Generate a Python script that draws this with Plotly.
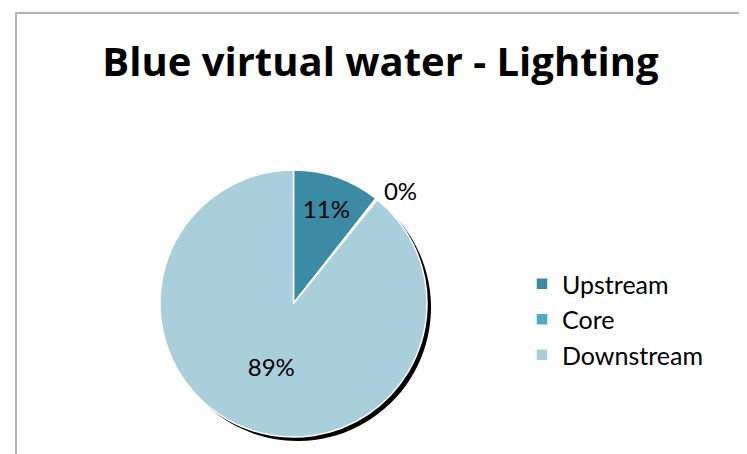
import plotly.graph_objects as go

# Data
categories = ["Upstream", "Core", "Downstream"]
shares = [10.6, 0.2, 89.2]
colors = ["#3A8BA3", "#4BACC6", "#A9CFDC"]
text_positions = ["inside", "outside", "inside"]
title_text = "Blue virtual water - Lighting"

W, H = 747, 454
FONT = "Lato"
OFF = 8  # page body margin

def px_x(v):
    return (v - OFF) / W

def px_y(v):
    return 1 - (v - OFF) / H

# pie geometry (pixels, in screenshot coordinates)
cx, cy, r = 293.5, 303.5, 133.5
sdx, sdy = 4, 4

fig = go.Figure()

# shadow
fig.add_trace(go.Pie(
    labels=categories, values=shares, sort=False, direction="clockwise", rotation=0,
    marker=dict(colors=["#000000"] * len(categories), line=dict(width=0)),
    textinfo="none", hoverinfo="skip", showlegend=False,
    domain=dict(x=[px_x(cx - r + sdx), px_x(cx + r + sdx)],
                y=[px_y(cy + r + sdy), px_y(cy - r + sdy)]),
))

fig.add_trace(go.Pie(
    labels=categories, values=shares, sort=False, direction="clockwise", rotation=0,
    marker=dict(colors=colors, line=dict(color="white", width=1.5)),
    texttemplate="%{percent:.0%}", textposition=text_positions,
    insidetextorientation="horizontal",
    textfont=dict(family=FONT, size=24, color="black"),
    outsidetextfont=dict(family=FONT, size=24, color="black"),
    insidetextfont=dict(family=FONT, size=24, color="black"),
    showlegend=True,
    domain=dict(x=[px_x(cx - r), px_x(cx + r)],
                y=[px_y(cy + r), px_y(cy - r)]),
))

fig.update_layout(
    width=W, height=H,
    margin=dict(l=0, r=0, t=0, b=0),
    paper_bgcolor="white",
    plot_bgcolor="white",
    title=dict(text="<b>" + title_text + "</b>", x=px_x(380.5), xanchor="center",
               y=px_y(62), yanchor="middle",
               font=dict(family="Open Sans", size=40, color="black")),
    legend=dict(x=px_x(522), xanchor="left", y=px_y(261), yanchor="top",
                font=dict(family=FONT, size=25, color="black"),
                bgcolor="rgba(0,0,0,0)", traceorder="normal"),
    shapes=[dict(type="rect", xref="paper", yref="paper",
                 x0=px_x(16), x1=px_x(743), y0=-0.05, y1=px_y(13),
                 line=dict(color="#B4B4B4", width=2), fillcolor="rgba(0,0,0,0)",
                 layer="below")],
)

fig.write_html("out.html")
